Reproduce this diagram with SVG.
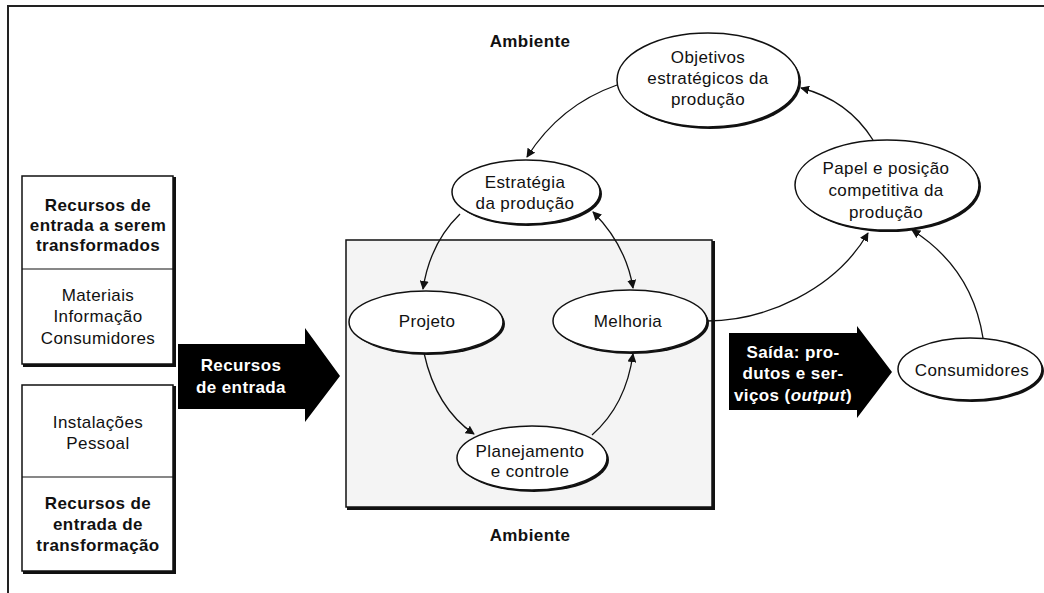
<svg xmlns="http://www.w3.org/2000/svg" width="1044" height="593" viewBox="0 0 1044 593">
  <defs>
    <marker id="arr" viewBox="0 0 10 10" refX="9" refY="5" markerWidth="9" markerHeight="9" markerUnits="userSpaceOnUse" orient="auto-start-reverse">
      <path d="M0,0 L10,5 L0,10 z" fill="#111"/>
    </marker>
    <style>
      .frame { stroke: #222; stroke-width: 2; fill: none; }
      .box { fill: #fff; stroke: #111; stroke-width: 1.5; }
      .shadow { stroke: #111; stroke-width: 3; fill: none; }
      .node { fill: #fff; stroke: #111; stroke-width: 1.5; }
      .nshadow { fill: #111; }
      .conn { fill: none; stroke: #111; stroke-width: 1.3; }
      .t { font-family: "Liberation Sans", Arial, sans-serif; font-size: 17px; letter-spacing: 0.4px; fill: #111; text-anchor: middle; }
      .b { font-weight: bold; }
      .w { fill: #fff; font-weight: bold; }
    </style>
  </defs>

  <rect width="1044" height="593" fill="#fff"/>

  <!-- outer frame: top and left edges -->
  <path class="frame" d="M8,593 L8,6 L1044,6"/>

  <!-- environment labels -->
  <text class="t b" x="530" y="47">Ambiente</text>
  <text class="t b" x="530" y="541">Ambiente</text>

  <!-- operation box -->
  <g id="operacao">
    <rect x="346" y="240" width="366" height="267" fill="#f4f4f4" stroke="#111" stroke-width="1.5"/>
    <path class="shadow" d="M713.5,241 L713.5,508.5 L347,508.5"/>
  </g>

  <!-- input resources: transformed -->
  <g id="recursos-transformados">
    <rect class="box" x="22" y="176" width="151" height="188"/>
    <path class="shadow" d="M174.5,177 L174.5,365.5 L23,365.5"/>
    <line x1="22" y1="269" x2="173" y2="269" stroke="#111" stroke-width="1.2"/>
    <text class="t b" x="98" y="211">Recursos de</text>
    <text class="t b" x="98" y="231">entrada a serem</text>
    <text class="t b" x="98" y="251">transformados</text>
    <text class="t" x="98" y="301">Materiais</text>
    <text class="t" x="98" y="322">Informação</text>
    <text class="t" x="98" y="344">Consumidores</text>
  </g>

  <!-- input resources: transforming -->
  <g id="recursos-transformacao">
    <rect class="box" x="22" y="385" width="151" height="186"/>
    <path class="shadow" d="M174.5,386 L174.5,572.5 L23,572.5"/>
    <line x1="22" y1="477" x2="173" y2="477" stroke="#111" stroke-width="1.2"/>
    <text class="t" x="98" y="428">Instalações</text>
    <text class="t" x="98" y="449">Pessoal</text>
    <text class="t b" x="98" y="509">Recursos de</text>
    <text class="t b" x="98" y="530">entrada de</text>
    <text class="t b" x="98" y="551">transformação</text>
  </g>

  <!-- input arrow -->
  <g id="seta-entrada">
    <path d="M178,344 L305,344 L305,328 L340,376 L305,422 L305,409 L178,409 z" fill="#000"/>
    <text class="t w" x="241" y="371">Recursos</text>
    <text class="t w" x="241" y="393">de entrada</text>
  </g>

  <!-- output arrow -->
  <g id="seta-saida">
    <path d="M729,333 L857,333 L857,326 L892,372 L857,418 L857,410 L729,410 z" fill="#000"/>
    <text class="t w" x="793" y="358">Saída: pro-</text>
    <text class="t w" x="793" y="379">dutos e ser-</text>
    <text class="t w" x="793" y="401">viços (<tspan font-style="italic">output</tspan>)</text>
  </g>

  <!-- connectors -->
  <g id="conectores">
    <path class="conn" d="M617,85 Q560,105 527,157" marker-end="url(#arr)"/>
    <path class="conn" d="M460,214 Q430,243 423,289" marker-end="url(#arr)"/>
    <path class="conn" d="M593,212 Q626,245 633,288" marker-start="url(#arr)" marker-end="url(#arr)"/>
    <path class="conn" d="M424,353 Q436,408 474,434" marker-end="url(#arr)"/>
    <path class="conn" d="M592,435 Q626,405 633,354" marker-end="url(#arr)"/>
    <path class="conn" d="M707,321 C765,321 835,290 868,233" marker-end="url(#arr)"/>
    <path class="conn" d="M983,338 Q972,268 912,230" marker-end="url(#arr)"/>
    <path class="conn" d="M873,140 Q848,100 801,88" marker-end="url(#arr)"/>
  </g>

  <!-- nodes -->
  <g id="objetivos">
    <ellipse class="nshadow" cx="710" cy="82" rx="91" ry="47"/>
    <ellipse class="node" cx="708" cy="80" rx="91" ry="47"/>
    <text class="t" x="708" y="63">Objetivos</text>
    <text class="t" x="708" y="84">estratégicos da</text>
    <text class="t" x="708" y="105">produção</text>
  </g>

  <g id="papel">
    <ellipse class="nshadow" cx="889" cy="187" rx="92" ry="45"/>
    <ellipse class="node" cx="887" cy="185" rx="92" ry="45"/>
    <text class="t" x="886" y="174">Papel e posição</text>
    <text class="t" x="886" y="196">competitiva da</text>
    <text class="t" x="886" y="218">produção</text>
  </g>

  <g id="estrategia">
    <ellipse class="nshadow" cx="528" cy="194" rx="74" ry="32"/>
    <ellipse class="node" cx="526" cy="192" rx="74" ry="32"/>
    <text class="t" x="525" y="188">Estratégia</text>
    <text class="t" x="525" y="209">da produção</text>
  </g>

  <g id="projeto">
    <ellipse class="nshadow" cx="428" cy="324" rx="77" ry="31"/>
    <ellipse class="node" cx="426" cy="322" rx="77" ry="31"/>
    <text class="t" x="427" y="327">Projeto</text>
  </g>

  <g id="melhoria">
    <ellipse class="nshadow" cx="632" cy="323" rx="77" ry="31"/>
    <ellipse class="node" cx="630" cy="321" rx="77" ry="31"/>
    <text class="t" x="628" y="327">Melhoria</text>
  </g>

  <g id="planejamento">
    <ellipse class="nshadow" cx="534" cy="460" rx="75" ry="32"/>
    <ellipse class="node" cx="532" cy="458" rx="75" ry="32"/>
    <text class="t" x="530" y="457">Planejamento</text>
    <text class="t" x="530" y="477">e controle</text>
  </g>

  <g id="consumidores">
    <ellipse class="nshadow" cx="972" cy="371" rx="72" ry="31"/>
    <ellipse class="node" cx="970" cy="369" rx="72" ry="31"/>
    <text class="t" x="972" y="376">Consumidores</text>
  </g>
</svg>
